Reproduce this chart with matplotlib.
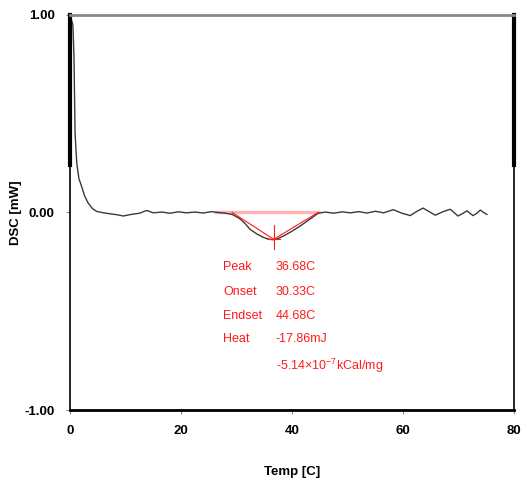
import matplotlib.pyplot as plt
import matplotlib as mpl

mpl.rcParams['font.family'] = ['Liberation Sans', 'DejaVu Sans']
mpl.rcParams['mathtext.fontset'] = 'custom'
mpl.rcParams['mathtext.rm'] = 'Liberation Sans'

# DSC trace
temp = [0.3, 0.5, 0.7, 0.9, 1.2, 1.6, 2.1, 2.6, 3.2, 4.0, 4.8, 6.0, 7.5, 8.5, 9.6, 11.0,
        12.5, 13.8, 15.0, 16.5, 18.0, 19.5, 21.0, 22.5, 24.0, 25.5, 26.6, 28.0, 29.2,
        30.5, 31.5, 32.4, 33.6, 34.8, 35.8, 36.5, 37.3, 38.4, 39.8, 41.4, 43.0, 44.7,
        46.0, 47.5, 49.0, 50.5, 52.0, 53.5, 55.0, 56.5, 58.2, 59.8, 61.3, 62.5, 63.6,
        64.7, 65.8, 67.2, 68.5, 69.9, 70.7, 71.5, 72.6, 73.3, 73.9, 74.5, 75.1]
dsc = [0.97, 0.95, 0.79, 0.40, 0.25, 0.17, 0.13, 0.085, 0.05, 0.02, 0.005, -0.002, -0.008,
       -0.012, -0.018, -0.010, -0.004, 0.010, -0.002, 0.002, -0.004, 0.003, -0.002, 0.002,
       -0.003, 0.004, 0.000, -0.004, -0.010, -0.030, -0.055, -0.085, -0.108, -0.126, -0.135,
       -0.138, -0.134, -0.120, -0.098, -0.070, -0.038, -0.004, 0.002, -0.004, 0.003, -0.002,
       0.004, -0.003, 0.006, -0.002, 0.014, -0.004, -0.016, 0.006, 0.022, 0.004, -0.014,
       0.004, 0.016, -0.018, -0.006, 0.008, -0.016, -0.004, 0.012, 0.000, -0.010]

peak_t, peak_y = 36.68, -0.136
onset_t, endset_t = 30.33, 44.68
base_start, base_end = 25.9, 45.0

labels = ["Peak", "Onset", "Endset", "Heat", ""]
values = ["36.68C", "30.33C", "44.68C", "-17.86mJ",
          r"-5.14$\times$10$^{\mathregular{-7}}$kCal/mg"]
row_y = [-0.278, -0.404, -0.525, -0.641, -0.778]

fig = plt.figure(figsize=(5.23, 4.79), dpi=100)
ax = fig.add_axes([0.134, 0.144, 0.849, 0.825])

red = '#ff1a1a'
ax.plot([base_start, base_end], [0, 0], color='#ffb3b3', lw=2.5, solid_capstyle='butt')
ax.plot(temp, dsc, color='#3a3a3a', lw=1.0)
ax.plot([29.2, peak_t], [0, peak_y], color=red, lw=0.8)
ax.plot([peak_t, endset_t], [peak_y, 0], color=red, lw=0.8)
ax.plot([peak_t, peak_t], [peak_y - 0.05, peak_y + 0.07], color=red, lw=0.8)
ax.plot([peak_t - 1.2, peak_t + 1.2], [peak_y, peak_y], color=red, lw=0.8)

for lab, val, y in zip(labels, values, row_y):
    ax.text(27.6, y, lab, color=red, fontsize=9, va='center')
    ax.text(37.1, y, val, color=red, fontsize=9, va='center')

ax.set_xlim(0, 80)
ax.set_ylim(-1, 1)
ax.set_xticks([0, 20, 40, 60, 80])
ax.set_yticks([-1, 0, 1])
ax.set_yticklabels(["-1.00", "0.00", "1.00"])
ax.tick_params(length=3, width=0.8, color='#888888', labelsize=9.5, pad=8)
for lbl in ax.get_xticklabels() + ax.get_yticklabels():
    lbl.set_fontweight('bold')
ax.set_xlabel('Temp [C]', fontsize=9.5, fontweight='bold')
ax.set_ylabel('DSC [mW]', fontsize=9.5, fontweight='bold')
ax.xaxis.set_label_coords(0.5, -0.142)
ax.yaxis.set_label_coords(-0.108, 0.5)

ax.spines['top'].set_color('#888888')
ax.spines['top'].set_linewidth(2)
ax.spines['bottom'].set_linewidth(2)
ax.spines['left'].set_linewidth(1.2)
ax.spines['right'].set_linewidth(1.2)
# heavier upper part of the side frames
ax.plot([0, 0], [0.24, 1], color='black', lw=3, clip_on=False)
ax.plot([80, 80], [0.24, 1], color='black', lw=3, clip_on=False)

fig.savefig('out.png', dpi=100)
